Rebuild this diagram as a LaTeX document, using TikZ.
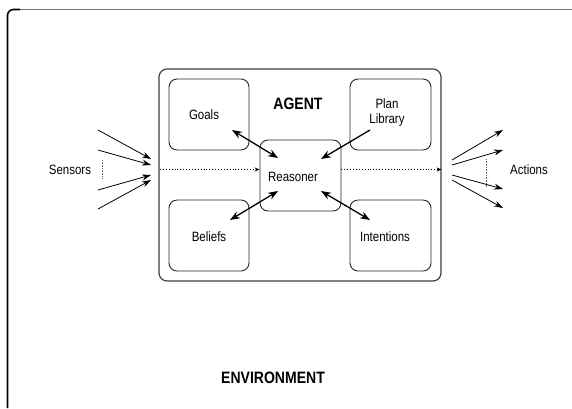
\documentclass[tikz,border=0pt]{standalone}
\usepackage{fontspec}
\setmainfont[FakeStretch=0.85]{Liberation Sans}
\usetikzlibrary{arrows.meta}
\begin{document}
\begin{tikzpicture}[x=1pt,y=-1pt,
  box/.style={draw=black!85,line width=0.9pt,rounded corners=8pt,inner sep=0pt},
  lbl/.style={font=\fontsize{13.5}{15}\selectfont,inner sep=0pt,align=center},
  blbl/.style={font=\bfseries\fontsize{16.5}{18}\selectfont,inner sep=0pt},
  big/.style={line width=1.3pt,{Stealth[length=10pt,width=7.5pt]}-{Stealth[length=10pt,width=7.5pt]}},
  one/.style={line width=1.3pt,-{Stealth[length=10pt,width=7.5pt]}},
  thin/.style={line width=0.8pt,-{Stealth[length=9pt,width=6pt]}},
  dots/.style={dotted,line width=0.9pt,-{Stealth[length=5pt,width=4pt]}},
  vdots/.style={densely dotted,line width=0.6pt,draw=black!60}]
\useasboundingbox (0,0) rectangle (572,408);
% environment border
\draw[line width=1.6pt,draw=black!55] (20,9.5) -- (572,9.5);
\draw[line width=1.6pt,rounded corners=6pt] (7.5,408) -- (7.5,9.5) -- (20,9.5);
% agent box
\node[draw=black!75,line width=1.2pt,rounded corners=8pt,minimum width=282pt,minimum height=212pt,inner sep=0pt] (agent) at (300,175) {};
% inner boxes
\node[box,minimum width=80pt,minimum height=71pt] (goals) at (209,114.5) {};
\node[box,minimum width=81pt,minimum height=71pt] (plan) at (390.5,114.5) {};
\node[box,minimum width=80pt,minimum height=71pt] (beliefs) at (209,235.5) {};
\node[box,minimum width=81pt,minimum height=71pt] (intent) at (390.5,235.5) {};
\node[box,minimum width=81pt,minimum height=71pt] (reasoner) at (300.5,175.5) {};
% labels
\node[blbl] (agentlbl) at (298,104) {AGENT};
\node[lbl] (goalslbl) at (204,115) {Goals};
\node[lbl] (planlbl) at (387,113) {Plan\\Library};
\node[lbl] (beliefslbl) at (209,237) {Beliefs};
\node[lbl] (intentlbl) at (385,237) {Intentions};
\node[lbl] (reasonerlbl) at (293,177) {Reasoner};
\node[lbl] (sensors) at (70,170) {Sensors};
\node[lbl] (actions) at (529,170) {Actions};
\node[blbl] (env) at (273,378) {ENVIRONMENT};
% arrow end points
\coordinate (g1) at (232,130); \coordinate (g2) at (278,158);
\coordinate (p1) at (370,130); \coordinate (p2) at (321,159);
\coordinate (b1) at (230,220); \coordinate (b2) at (278,191);
\coordinate (i1) at (370,220); \coordinate (i2) at (321,191);
\draw[big] (g1) -- (g2);
\draw[one] (p1) -- (p2);
\draw[big] (b1) -- (b2);
\draw[big] (i1) -- (i2);
% dotted flow
\coordinate (dl) at (160,169.5);
\draw[dots] (dl) -- (reasoner.west |- dl);
\draw[dots] (reasoner.east |- dl) -- (agent.east |- dl);
% sensor arrows
\coordinate (s1) at (98,130); \coordinate (s2) at (98,150);
\coordinate (s3) at (98,190); \coordinate (s4) at (98,209);
\coordinate (t1) at (151,159); \coordinate (t2) at (151,165);
\coordinate (t3) at (151,175); \coordinate (t4) at (151,180);
\draw[thin] (s1) -- (t1);
\draw[thin] (s2) -- (t2);
\draw[thin] (s3) -- (t3);
\draw[thin] (s4) -- (t4);
\coordinate (sv1) at (102,160); \coordinate (sv2) at (102,178);
\draw[vdots] (sv1) -- (sv2);
% action arrows
\coordinate (a1) at (452,160); \coordinate (a2) at (452,165);
\coordinate (a3) at (452,175); \coordinate (a4) at (452,180);
\coordinate (e1) at (503,130); \coordinate (e2) at (503,150);
\coordinate (e3) at (503,189); \coordinate (e4) at (503,208);
\draw[thin] (a1) -- (e1);
\draw[thin] (a2) -- (e2);
\draw[thin] (a3) -- (e3);
\draw[thin] (a4) -- (e4);
\coordinate (av1) at (486,159); \coordinate (av2) at (486,187);
\draw[vdots] (av1) -- (av2);
\end{tikzpicture}
\end{document}
